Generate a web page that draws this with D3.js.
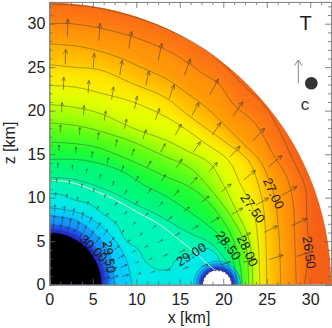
<!doctype html>
<meta charset="utf-8">
<style>
  html, body { margin: 0; padding: 0; background: #fff; }
  svg { display: block; font-family: "Liberation Sans", sans-serif; }
</style>
<body>
<div id="chart"></div>
<script src="https://d3js.org/d3.v7.min.js"></script>
<script>

// isotherms, [x, z] in km, log T
const t2650 = [[0,32.3],[5,31.9],[10,30.7],[15,28.7],[18.8,26.4],[22.6,22.7],[24.9,20.4],[26.4,17.8],[28.05,14.3],[29.4,11.3],[29.6,7.8],[29.8,3.6],[29.3,0]]
const t2675 = [[0,30],[2.5,30],[5.8,29.5],[9.6,28.5],[13.4,27],[16.1,25.4],[17.6,24.3],[19.5,23.1],[21.1,20.8],[23.7,18.5],[25.9,14.7],[27.3,12.4],[28.05,9.3],[28.2,5.5],[28.4,0]]
const t2700 = [[0,27.7],[3.9,27.3],[7.8,26.2],[11.2,24.7],[13.4,23.7],[15.3,22.4],[18,20.4],[20.5,18],[22.5,16],[24.2,14.3],[25.2,12.2],[25.9,10.1],[26.3,7],[26.5,4],[26.6,0]]
const t2725 = [[0,25.3],[2.7,25],[5.8,24.7],[9.6,23.1],[13.4,21.5],[15.7,19.7],[18,18],[20.5,16.2],[22.9,14.3],[24,11.6],[24.6,9],[24.9,5.2],[25,0]]
const t2750 = [[0,22.9],[3,22.7],[6,22],[9.6,21],[13.4,19.3],[15.5,18],[18,16.2],[20.6,14.3],[22,11.5],[23.4,8.7],[24,5],[24.2,0]]
const t2775 = [[0,20.7],[2.8,20.4],[5.8,19.7],[9.6,18],[13.4,16.6],[16,15.3],[18.4,14],[20,11.5],[21.5,8.5],[23,5],[23.4,0]]
const t2800 = [[0,18.6],[3,18.3],[6,17.6],[9.6,16.4],[13.4,14.7],[16.2,13.4],[18.5,11],[20.5,8.4],[22.2,5.5],[22.7,4],[22.9,0]]
const t2825 = [[0,16.4],[5,15.9],[10,14],[13.4,12.4],[16,11.3],[18,9.8],[19.8,7.6],[21,5.5],[21.8,3],[22.2,0]]
const t2850 = [[0,14.4],[4,14.3],[8,13.2],[11,11.4],[13.4,10.2],[15.5,8.8],[17.5,7.4],[19.2,6],[20.5,4.5],[21.4,1.5],[21.5,0]]
const t2875 = [[0,12.3],[2.3,12.2],[5,11.5],[7.7,10.4],[10,9.2],[12.5,8],[15.8,6.1],[18.5,4.8],[20,3.2],[20.8,1.7],[21,0]]
const t2900 = [[0,10.5],[1.5,10.3],[3,9.7],[4.6,9.3],[6.1,8.2],[7.7,7],[8.8,5.1],[10.3,4],[11.1,2.6],[12.6,1.7],[13.9,1.9],[14.5,2.8],[16.2,3.4],[17.9,4.2],[19.1,3.6],[19.7,2.5],[20.3,1.7],[20.7,0]]
const t2925 = [[0,8.8],[2,8.6],[4,8],[6,6.7],[7.6,5],[8.8,3],[9.5,0]]
const t2950 = [[0,7.9],[3,7.4],[5,6],[6.5,4.3],[7.1,3],[7.5,0]]
const t2975 = [[0,6.9],[3,6.3],[4.8,4.8],[6,3.2],[6.7,1.5],[6.8,0]]
const t3000 = [[0,6.35],[2.5,5.85],[4.5,4.5],[5.85,2.5],[6.35,0]]

const contourLevels = [26.5, 26.75, 27, 27.25, 27.5, 27.75, 28, 28.25, 28.5, 28.75, 29, 29.25, 29.5, 29.75, 30]
const contourLines = [t2650, t2675, t2700, t2725, t2750, t2775, t2800, t2825, t2850, t2875, t2900, t2925, t2950, t2975, t3000]
const contourBlur = [6, 6, 6, 6, 6, 6, 6, 6, 5, 4, 3, 2.5, 1.5, 1.5, 1.5]

// closed isotherms around the hole
const holeLevels = [29.25, 29.5, 29.75, 30]
const holeRadii = [2.7, 2.4, 2.1, 1.9]

const lightLine = [[0,12],[2.3,11.8],[5,10.9],[7.7,9.7],[10,8.4],[12.7,6.9],[15,5.1],[16.9,3.6],[18.5,2.1],[19.2,1.6]]

const colorLevels = [26.25, 26.5, 26.75, 27, 27.25, 27.5, 27.75, 28, 28.25, 28.5, 28.75, 29, 29.25, 29.5, 29.75, 30, 30.25]
const colorStops = ["#f05518", "#f86818", "#ff8410", "#ffa800", "#ffd000", "#ffff00", "#c8ff00", "#80ff10", "#30ff20", "#00fa50", "#00f5a0", "#00f5d0", "#00e0ff", "#10b8ff", "#1078ff", "#2a2af0", "#2020c0"]

// velocity arrows: tip radius per row, tip angle per column
const arrowRadii = [30.6, 27.1, 23.9, 21, 18.4, 16.1, 14, 12.2, 10.6, 9.2, 8, 7]
const arrowLengths = [2, 1.7, 1.45, 1.15, 0.85, 0.7, 0.55, 0.45, 0.4, 0.8, 1, 0.9]
const arrowAngles = [86, 79, 72, 65, 58, 50.6, 43.4, 36, 29, 21.6, 14.4, 7.2]
const arrowDirs = [88, 86, 81, 78, 70, 62, 56, 47, 39, 30, 25, 17]

const labelText = ["26.50", "27.00", "27.50", "28.00", "28.50", "29.00", "29.50", "30.00"]
const labelX = [29.9, 25.8, 23.4, 22.8, 20.6, 16.3, 6.9, 5.1]
const labelZ = [3.7, 10.5, 8.8, 3.9, 4.5, 3.5, 3.2, 4.2]
const labelRot = [82, 65, 55, 65, 53, -32, 82, 45]

const xMajor = [0, 5, 10, 15, 20, 25, 30]
const xMinor = [1.25, 2.5, 3.75, 6.25, 7.5, 8.75, 11.25, 12.5, 13.75, 16.25, 17.5, 18.75, 21.25, 22.5, 23.75, 26.25, 27.5, 28.75, 31.25]
const zMajor = [0, 5, 10, 15, 20, 25, 30]
const zMinor = [1, 2, 3, 4, 6, 7, 8, 9, 11, 12, 13, 14, 16, 17, 18, 19, 21, 22, 23, 24, 26, 27, 28, 29, 31, 32]

const edgeRadius = 32.4
const starRadius = 6
const holeCenter = 19.3
const holeRadius = 1.65

const plotLeft = 49.3, plotRight = 332, plotTop = 1.95, plotBottom = 284.7

const x = d3.scaleLinear().domain([0, 32.5]).range([plotLeft, plotRight])
const y = d3.scaleLinear().domain([0, 32.5]).range([plotBottom, plotTop])
const km = d => x(d) - x(0)

const color = d3.scaleLinear().domain(colorLevels).range(colorStops)

const svg = d3.select("#chart").append("svg")
  .attr("width", 332)
  .attr("height", 328)

const defs = svg.append("defs")
defs.append("clipPath").attr("id", "plot")
  .append("rect")
  .attr("x", plotLeft).attr("y", plotTop)
  .attr("width", plotRight - plotLeft).attr("height", plotBottom - plotTop)
defs.append("clipPath").attr("id", "disc")
  .append("circle")
  .attr("cx", x(0)).attr("cy", y(0)).attr("r", km(edgeRadius))

// isotherm mirrored over both axes so the blur is even along them
function closed(pts) {
  const a = pts
  const b = pts.slice(0, -1).reverse().map(p => [p[0], -p[1]])
  const c = pts.slice(1).map(p => [-p[0], -p[1]])
  const e = pts.slice(1, -1).reverse().map(p => [-p[0], p[1]])
  return a.concat(b, c, e)
}

const areaPath = d3.line().x(d => x(d[0])).y(d => y(d[1])).curve(d3.curveCatmullRomClosed)
const linePath = d3.line().x(d => x(d[0])).y(d => y(d[1])).curve(d3.curveCatmullRom)

const plot = svg.append("g").attr("clip-path", "url(#plot)")

const field = plot.append("g").attr("clip-path", "url(#disc)")

field.append("rect")
  .attr("x", plotLeft).attr("y", plotTop)
  .attr("width", plotRight - plotLeft).attr("height", plotBottom - plotTop)
  .attr("fill", color(26.4))

contourLines.forEach((pts, i) => {
  field.append("path")
    .attr("d", areaPath(closed(pts)))
    .attr("fill", color(contourLevels[i] + 0.125))
    .style("filter", "blur(" + contourBlur[i] + "px)")
})

holeLevels.forEach((t, i) => {
  field.append("circle")
    .attr("cx", x(holeCenter)).attr("cy", y(0))
    .attr("r", km(holeRadii[i]))
    .attr("fill", color(t + 0.125))
    .style("filter", "blur(0.8px)")
})

const lines = plot.append("g")
  .attr("fill", "none")
  .attr("stroke", "#2c3a2c")
  .attr("stroke-opacity", 0.6)
  .attr("stroke-width", 0.65)

lines.selectAll("path.iso")
  .data(contourLines)
  .enter()
  .append("path")
  .attr("class", "iso")
  .attr("d", d => linePath(d))

lines.selectAll("circle")
  .data(holeRadii)
  .enter()
  .append("circle")
  .attr("cx", x(holeCenter)).attr("cy", y(0))
  .attr("r", d => km(d))

plot.append("path")
  .attr("d", linePath(lightLine))
  .attr("fill", "none")
  .attr("stroke", "#d8f4d8")
  .attr("stroke-width", 1)

// arrows
function arrowPath(tipX, tipZ, dir, len) {
  const a = dir * Math.PI / 180
  const x1 = x(tipX), y1 = y(tipZ)
  const x0 = x(tipX - len * Math.cos(a)), y0 = y(tipZ - len * Math.sin(a))
  const h = Math.max(1.5, Math.min(5, km(len) * 0.32))
  const ang = Math.atan2(y1 - y0, x1 - x0)
  const hx = s => x1 - h * Math.cos(ang + s * 0.45)
  const hy = s => y1 - h * Math.sin(ang + s * 0.45)
  return "M" + x0 + "," + y0 + "L" + x1 + "," + y1 +
    "M" + hx(1) + "," + hy(1) + "L" + x1 + "," + y1 + "L" + hx(-1) + "," + hy(-1)
}

const arrows = plot.append("g")
  .attr("fill", "none")
  .attr("stroke", "#333")
  .attr("stroke-opacity", 0.65)
  .attr("stroke-width", 0.8)

arrowRadii.forEach((r, i) => {
  arrowAngles.forEach((deg, j) => {
    const a = deg * Math.PI / 180
    arrows.append("path")
      .attr("d", arrowPath(r * Math.cos(a), r * Math.sin(a), arrowDirs[j], arrowLengths[i]))
  })
})

// star and hole
plot.append("circle")
  .attr("cx", x(0)).attr("cy", y(0)).attr("r", km(starRadius))
  .attr("fill", "#000")

plot.append("circle")
  .attr("cx", x(holeCenter)).attr("cy", y(0)).attr("r", km(holeRadius))
  .attr("fill", "#fff")
  .attr("stroke", "#7a5a3a")
  .attr("stroke-width", 1.2)
  .attr("stroke-dasharray", "2 2")

// contour labels
plot.selectAll("text.lab")
  .data(labelText)
  .enter()
  .append("text")
  .attr("class", "lab")
  .attr("transform", (d, i) => "translate(" + x(labelX[i]) + "," + y(labelZ[i]) + ") rotate(" + labelRot[i] + ")")
  .attr("text-anchor", "middle")
  .attr("dy", "0.35em")
  .attr("font-size", 13)
  .attr("fill", "#1a1a1a")
  .text(d => d)

// axes on all four sides
function drawAxis(axis, scale, major, minor, tx, ty, padding) {
  const g = svg.append("g").attr("transform", "translate(" + tx + "," + ty + ")")
  g.append("g").call(axis(scale).tickValues(minor).tickSize(-3).tickFormat(""))
  const m = g.append("g").call(axis(scale).tickValues(major).tickSize(-6).tickPadding(padding || 3)
    .tickFormat(padding ? d3.format("d") : ""))
  g.selectAll("line").attr("stroke", "#666").attr("stroke-width", 0.8)
  g.selectAll("path.domain").attr("stroke", "#888").attr("stroke-width", 1)
  m.selectAll("text").attr("font-size", 16).attr("fill", "#222").attr("font-family", "Liberation Sans")
}

drawAxis(d3.axisBottom, x, xMajor, xMinor, 0, plotBottom, 9)
drawAxis(d3.axisTop, x, xMajor, xMinor, 0, plotTop, 0)
drawAxis(d3.axisLeft, y, zMajor, zMinor, plotLeft, 0, 4)
drawAxis(d3.axisRight, y, zMajor, zMinor, 331, 0, 0)

svg.append("text")
  .attr("x", 189).attr("y", 323)
  .attr("text-anchor", "middle")
  .attr("font-size", 16).attr("fill", "#222")
  .text("x [km]")

svg.append("text")
  .attr("transform", "translate(15,143) rotate(-90)")
  .attr("text-anchor", "middle")
  .attr("font-size", 16).attr("fill", "#222")
  .text("z [km]")

// legend
svg.append("text")
  .attr("x", 305.5).attr("y", 29.5)
  .attr("text-anchor", "middle")
  .attr("font-size", 20).attr("fill", "#222")
  .text("T")

svg.append("path")
  .attr("d", "M298.3,83.3L298.3,60M294.5,65.5L298.3,60L302,65.5")
  .attr("fill", "none")
  .attr("stroke", "#777")
  .attr("stroke-width", 0.9)

svg.append("circle")
  .attr("cx", 311.3).attr("cy", 83.3).attr("r", 6.3)
  .attr("fill", "#333")

svg.append("text")
  .attr("x", 305).attr("y", 109.5)
  .attr("text-anchor", "middle")
  .attr("font-size", 17).attr("fill", "#333")
  .text("c")

</script>
</body>
